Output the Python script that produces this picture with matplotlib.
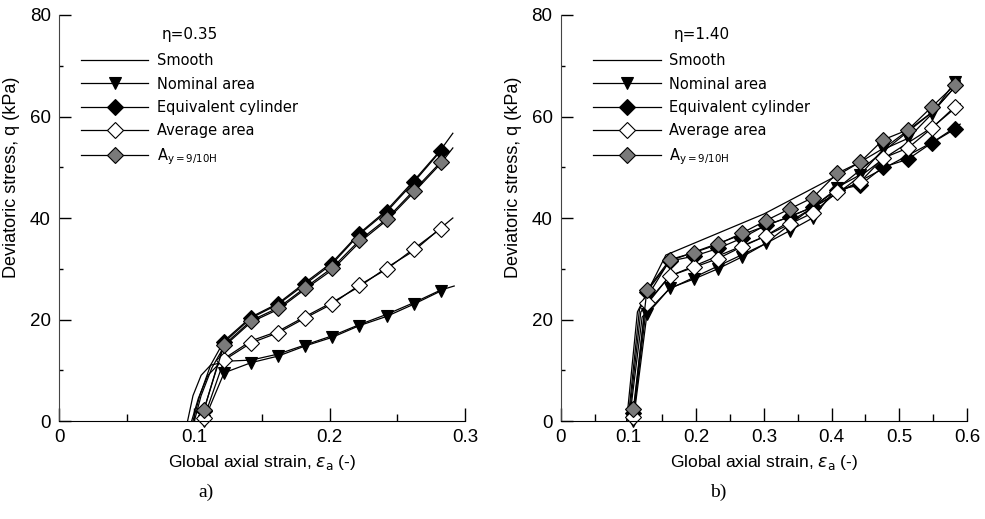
import matplotlib
matplotlib.use('Agg')
import matplotlib.pyplot as plt
from matplotlib.lines import Line2D
from matplotlib.ticker import MultipleLocator

# ---- data: eta = 0.35 (a) ----
a_x = [0.107, 0.122, 0.142, 0.162, 0.182, 0.202, 0.222, 0.242, 0.262, 0.282]
a_nominal = [0.0, 9.5, 11.5, 12.8, 14.8, 16.5, 18.8, 20.6, 23.0, 25.6]
a_equiv = [2.0, 15.5, 20.3, 23.0, 27.0, 31.0, 36.8, 41.2, 47.0, 53.2]
a_average = [0.5, 12.0, 15.4, 17.4, 20.3, 23.1, 26.8, 29.9, 33.9, 37.9]
a_ay = [2.2, 15.0, 19.8, 22.3, 26.3, 30.2, 35.6, 39.8, 45.4, 51.0]

a_sm_nom_x = [0.095, 0.099, 0.105, 0.112, 0.125, 0.142, 0.162, 0.182, 0.202, 0.222, 0.242, 0.262, 0.282, 0.292]
a_sm_nom_q = [0.0, 5.0, 9.0, 11.0, 11.8, 12.0, 13.2, 15.0, 16.8, 19.0, 21.0, 23.3, 25.8, 26.6]
a_sm_eq_x = [0.099, 0.104, 0.112, 0.122, 0.142, 0.162, 0.182, 0.202, 0.222, 0.242, 0.262, 0.282, 0.291]
a_sm_eq_q = [0.0, 5.0, 11.0, 15.8, 20.5, 23.2, 27.3, 31.3, 37.0, 41.5, 47.3, 53.4, 56.7]
a_sm_av_x = [0.098, 0.103, 0.110, 0.122, 0.142, 0.162, 0.182, 0.202, 0.222, 0.242, 0.262, 0.282, 0.291]
a_sm_av_q = [0.0, 4.5, 9.0, 12.3, 15.8, 17.7, 20.6, 23.4, 26.5, 30.2, 33.5, 38.0, 40.0]
a_sm_ay_x = [0.100, 0.105, 0.113, 0.122, 0.142, 0.162, 0.182, 0.202, 0.222, 0.242, 0.262, 0.282, 0.291]
a_sm_ay_q = [0.0, 5.0, 10.5, 14.7, 19.5, 22.0, 26.0, 29.8, 35.2, 39.5, 45.0, 50.7, 53.8]

# ---- data: eta = 1.40 (b) ----
b_x = [0.107, 0.127, 0.161, 0.197, 0.232, 0.267, 0.303, 0.338, 0.372, 0.408, 0.442, 0.476, 0.513, 0.548, 0.582]
b_nominal = [0.0, 21.0, 26.2, 28.0, 30.0, 32.3, 35.0, 37.5, 40.0, 46.0, 48.5, 53.5, 55.7, 60.5, 66.8]
b_equiv = [1.5, 25.5, 31.5, 32.5, 34.0, 36.0, 38.6, 40.2, 42.2, 45.5, 46.5, 50.0, 51.6, 54.8, 57.5]
b_average = [0.8, 23.3, 28.6, 30.3, 32.0, 34.3, 36.5, 38.8, 41.0, 45.1, 47.1, 51.8, 53.8, 57.7, 61.9]
b_ay = [2.3, 25.8, 31.8, 33.2, 34.8, 37.0, 39.5, 41.8, 44.0, 48.8, 51.0, 55.4, 57.4, 61.9, 66.2]

b_sm_nom_x = [0.101, 0.120, 0.160, 0.300, 0.410, 0.480, 0.550, 0.590]
b_sm_nom_q = [0.0, 20.5, 26.0, 34.8, 46.0, 53.5, 61.0, 67.0]
b_sm_eq_x = [0.099, 0.116, 0.160, 0.300, 0.370, 0.410, 0.480, 0.550, 0.590]
b_sm_eq_q = [0.0, 22.0, 31.5, 38.3, 42.0, 45.0, 50.0, 55.0, 58.5]
b_sm_av_x = [0.100, 0.118, 0.160, 0.300, 0.410, 0.480, 0.550, 0.590]
b_sm_av_q = [0.0, 21.5, 28.5, 36.3, 45.0, 52.0, 58.0, 62.5]
b_sm_ay_x = [0.097, 0.113, 0.155, 0.300, 0.410, 0.480, 0.550, 0.590]
b_sm_ay_q = [0.0, 21.5, 32.7, 40.8, 48.5, 54.0, 61.0, 67.0]

labels = ['Smooth', 'Nominal area', 'Equivalent cylinder', 'Average area', r'A$_{\mathrm{y=9/10H}}$']
narrow = 'Liberation Sans'

lw = 0.9
styles = [
    dict(marker='v', mfc='black', ms=9),
    dict(marker='D', mfc='black', ms=8),
    dict(marker='D', mfc='white', ms=8),
    dict(marker='D', mfc='#7a7a7a', ms=8),
]

fig = plt.figure(figsize=(9.85, 5.19), dpi=100)
ax1 = fig.add_axes([0.0599, 0.1888, 0.4122, 0.7823])
ax2 = fig.add_axes([0.5695, 0.1888, 0.4122, 0.7823])


def draw(ax, x, series, smooth, xmax, eta, leg_x):
    for sx, sq in smooth:
        ax.plot(sx, sq, color='black', lw=lw)
    for q, st in zip(series, styles):
        ax.plot(x, q, color='black', lw=lw, mec='black', mew=0.8,
                clip_on=False, **st)
    ax.set_xlim(0, xmax)
    ax.set_ylim(0, 80)
    ax.xaxis.set_major_locator(MultipleLocator(0.1))
    ax.xaxis.set_minor_locator(MultipleLocator(0.05))
    ax.yaxis.set_major_locator(MultipleLocator(20))
    ax.yaxis.set_minor_locator(MultipleLocator(10))
    ax.tick_params(axis='x', which='major', direction='in', length=9.4, width=1)
    ax.tick_params(axis='x', which='minor', direction='in', length=5, width=1)
    ax.tick_params(axis='y', which='major', direction='in', length=8.6, width=1)
    ax.tick_params(axis='y', which='minor', direction='in', length=3, width=1)
    ax.tick_params(labelsize=13.5, pad=6)
    ax.set_xticklabels(['0' if t == 0 else f'{t:g}' for t in ax.get_xticks()], family=narrow)
    ax.set_yticklabels([f'{t:g}' for t in ax.get_yticks()], family=narrow)
    for s in ['top', 'right']:
        ax.spines[s].set_visible(False)
    ax.spines['left'].set_color('#444444')
    ax.spines['bottom'].set_color('black')
    ax.set_xlabel(r'Global axial strain, $\varepsilon_{\mathrm{a}}$ (-)', fontsize=12.5,
                  family=narrow, labelpad=5)
    ax.set_ylabel('Deviatoric stress, q (kPa)', fontsize=13, family=narrow)
    ax.yaxis.set_label_coords(-0.096, 0.6)

    handles = [Line2D([], [], color='black', lw=lw)]
    for st in styles:
        handles.append(Line2D([], [], color='black', lw=lw, mec='black', mew=0.8, **st))
    leg = ax.legend(handles, labels, title='\u03b7=' + eta, loc='upper left',
                    bbox_to_anchor=(leg_x, 0.97), frameon=False, fontsize=10.5,
                    title_fontsize=11, handlelength=4.6, handletextpad=0.6,
                    labelspacing=0.57, borderpad=0, borderaxespad=0)
    leg._legend_box.align = 'center'
    leg._legend_box.sep = 8


draw(ax1, a_x, [a_nominal, a_equiv, a_average, a_ay],
     [(a_sm_nom_x, a_sm_nom_q), (a_sm_eq_x, a_sm_eq_q), (a_sm_av_x, a_sm_av_q), (a_sm_ay_x, a_sm_ay_q)],
     0.3, '0.35', 0.055)
draw(ax2, b_x, [b_nominal, b_equiv, b_average, b_ay],
     [(b_sm_nom_x, b_sm_nom_q), (b_sm_eq_x, b_sm_eq_q), (b_sm_av_x, b_sm_av_q), (b_sm_ay_x, b_sm_ay_q)],
     0.6, '1.40', 0.08)

fig.text(0.2095, 0.052, 'a)', family='Liberation Serif', fontsize=14, ha='center', va='center')
fig.text(0.7295, 0.052, 'b)', family='Liberation Serif', fontsize=14, ha='center', va='center')

plt.savefig('out.png', dpi=100)
